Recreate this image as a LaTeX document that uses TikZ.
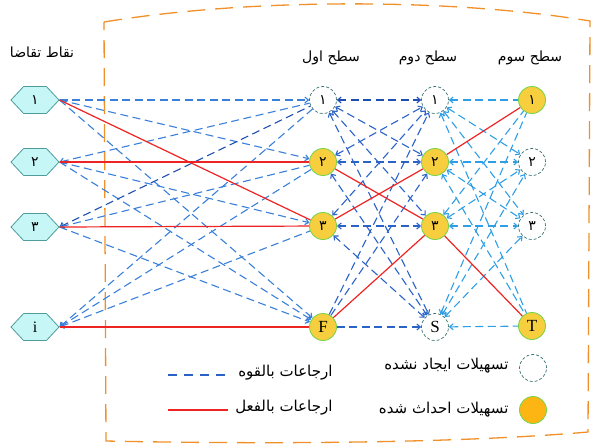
\documentclass[tikz,border=0pt]{standalone}
\usepackage{fontspec}
\setmainfont{Liberation Serif}
\newfontfamily\fa[Script=Arabic]{DejaVu Sans}
\TeXXeTstate=1
\usetikzlibrary{arrows.meta,shapes.symbols}

\definecolor{potblue}{HTML}{3A80DA}
\definecolor{midblue}{HTML}{2A62C8}
\definecolor{darkpot}{HTML}{1E4FB0}
\definecolor{skyblue}{HTML}{2E9EE6}
\definecolor{actred}{HTML}{EE2424}
\definecolor{hexfill}{HTML}{C6F6F6}
\definecolor{hexline}{HTML}{4E9C9C}
\definecolor{openfill}{HTML}{F7CF3E}
\definecolor{openline}{HTML}{7ED44A}
\definecolor{legfill}{HTML}{FDB514}
\definecolor{closedline}{HTML}{3B7272}
\definecolor{frameorange}{HTML}{F0902A}

\tikzset{
  demand/.style={signal, signal to=west and east, signal pointer angle=94,
    draw=hexline, fill=hexfill, minimum width=48pt, minimum height=27pt,
    inner sep=0pt, line width=0.8pt},
  opennode/.style={circle, draw=openline, fill=openfill, minimum size=27pt,
    inner sep=0pt, line width=0.9pt},
  closednode/.style={circle, draw=closedline, dash pattern=on 3pt off 2pt,
    fill=white, minimum size=27pt, inner sep=0pt, line width=0.7pt},
  pot/.style={draw=potblue, line width=1.1pt, dash pattern=on 8pt off 4.5pt,
    >={Straight Barb[length=3.5pt,width=6pt]}},
  act/.style={draw=actred, line width=1.2pt},
  framebox/.style={draw=frameorange, line width=1.3pt, dash pattern=on 18pt off 10pt},
  header/.style={font=\fa\fontsize{14}{16}\selectfont},
  digit/.style={font=\fa\fontsize{14}{16}\selectfont},
  latin/.style={font=\fontsize{17}{18}\selectfont},
  legtext/.style={anchor=east, font=\fa\fontsize{15}{17}\selectfont}
}

\begin{document}
\begin{tikzpicture}[x=1pt,y=-1pt]
\useasboundingbox (0,0) rectangle (593,444);

% dashed outline of the facility network
\draw[framebox] (104,22) .. controls (250,-2) and (450,-2) .. (590,21)
  -- (588,432) .. controls (450,444) and (250,444) .. (106,441) -- cycle;

% column headings
\node[header] (hd0) at (42,52) {\beginR نقاط تقاضا\endR};
\node[header] (hd1) at (331,58) {\beginR سطح اول\endR};
\node[header] (hd2) at (428,58) {\beginR سطح دوم\endR};
\node[header] (hd3) at (530,58) {\beginR سطح سوم\endR};

% demand points
\node[demand, digit] (h1) at (35,100) {۱};
\node[demand, digit] (h2) at (35,162) {۲};
\node[demand, digit] (h3) at (35,227) {۳};
\node[demand, font=\fontsize{16}{17}\selectfont] (hi) at (35,327) {i};

% first level
\node[closednode, digit] (a1) at (323,100) {۱};
\node[opennode, digit]   (a2) at (323,162) {۲};
\node[opennode, digit]   (a3) at (323,226) {۳};
\node[opennode, latin]   (aF) at (323,327) {F};

% second level
\node[closednode, digit] (b1) at (435,100) {۱};
\node[opennode, digit]   (b2) at (435,162) {۲};
\node[opennode, digit]   (b3) at (435,226) {۳};
\node[closednode, latin] (bS) at (435,327) {S};

% third level
\node[opennode, digit]   (c1) at (532,100) {۱};
\node[closednode, digit] (c2) at (532,162) {۲};
\node[closednode, digit] (c3) at (532,226) {۳};
\node[opennode, latin]   (cT) at (532,326) {T};

% potential assignments: demand points to first level (from the hexagon tips)
\draw[pot, ->] (h1.east) -- (a1);
\draw[pot, ->] (h1.east) -- (a2);
\draw[pot, ->] (h1.east) -- (aF);
\draw[pot, <-] (h2.east) -- (a1);
\draw[pot, ->] (h2.east) -- (a3);
\draw[pot, ->] (h2.east) -- (aF);
\draw[pot, <-, draw=darkpot] (h3.east) -- (a1);
\draw[pot, <-] (h3.east) -- (a2);
\draw[pot, ->] (h3.east) -- (aF);
\draw[pot, <-] (hi.east) -- (a1);
\draw[pot, <-] (hi.east) -- (a2);
\draw[pot, <-] (hi.east) -- (a3);

% potential assignments: first to second level
\begin{scope}[pot/.append style={draw=midblue}]
\draw[pot, <->, draw=darkpot] (a1) -- (b1);
\draw[pot, <->] (a1) -- (b2);
\draw[pot, <->] (a1) -- (b3);
\draw[pot, <->] (a1) -- (bS);
\draw[pot, <->] (a2) -- (b1);
\draw[pot, <->] (a2) -- (b2);
\draw[pot, <->] (a2) -- (bS);
\draw[pot, <->] (a3) -- (b1);
\draw[pot, <->] (a3) -- (b3);
\draw[pot, <->] (a3) -- (bS);
\draw[pot, ->] (aF) -- (b1);
\draw[pot, ->] (aF) -- (b2);
\draw[pot, ->] (aF) -- (bS);
\end{scope}

% potential assignments: second to third level
\begin{scope}[pot/.append style={draw=skyblue}]
\draw[pot, <-] (b1) -- (c1);
\draw[pot, <->] (b1) -- (c2);
\draw[pot, <->] (b1) -- (c3);
\draw[pot, <-] (b1) -- (cT);
\draw[pot, <->] (b2) -- (c2);
\draw[pot, <->] (b2) -- (c3);
\draw[pot, <-] (b2) -- (cT);
\draw[pot, <-] (b3) -- (c1);
\draw[pot, <->] (b3) -- (c2);
\draw[pot, <->] (b3) -- (c3);
\draw[pot, <-] (bS) -- (c1);
\draw[pot, <->] (bS) -- (c2);
\draw[pot, <->] (bS) -- (c3);
\draw[pot, <-] (bS) -- (cT);
\end{scope}

% actual assignments
\draw[act] (h1.east) -- (a3);
\draw[act] (h2.east) -- (a2);
\draw[act] (h3.east) -- (a3);
\draw[act] (hi.east) -- (aF);
\draw[act] (a2) -- (b3);
\draw[act] (a3) -- (b2);
\draw[act] (aF) -- (b3);
\draw[act] (b2) -- (c1);
\draw[act] (b3) -- (cT);

% legend
\coordinate (lp1) at (168,375);
\coordinate (lp2) at (228,375);
\coordinate (la1) at (168,410);
\coordinate (la2) at (228,410);
\draw[pot, draw=midblue, dash pattern=on 9pt off 7pt] (lp1) -- (lp2);
\draw[act] (la1) -- (la2);
\node[legtext] (lt1) at (336,373) {\beginR ارجاعات بالقوه\endR};
\node[legtext] (lt2) at (336,408) {\beginR ارجاعات بالفعل\endR};
\node[closednode] (lg1) at (533,368) {};
\node[opennode, fill=legfill] (lg2) at (533,410) {};
\node[legtext] (lt3) at (512,366) {\beginR تسهیلات ایجاد نشده\endR};
\node[legtext] (lt4) at (512,410) {\beginR تسهیلات احداث شده\endR};
\end{tikzpicture}
\end{document}
